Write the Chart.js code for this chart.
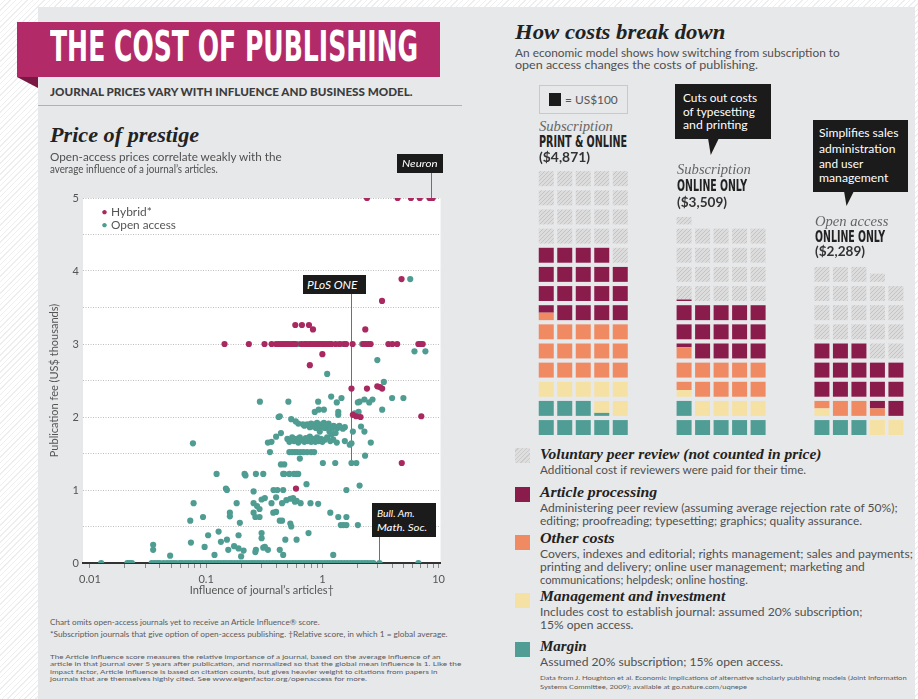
<!DOCTYPE html>
<html>
<head>
<meta charset="utf-8">
<script src="https://cdn.jsdelivr.net/npm/chart.js@4.4.1/dist/chart.umd.min.js"></script>
<style>
  html, body { margin: 0; padding: 0; }
  body {
    width: 918px; height: 699px; position: relative; overflow: hidden;
    background: repeating-linear-gradient(135deg, #ffffff 0 3px, #eceef0 3px 4px);
    font-family: Lato, "Open Sans", sans-serif;
  }
  #panel { position: absolute; left: 38px; top: 7px; width: 877px; height: 692px; background: #e7e8ea; }
  .t { position: absolute; white-space: nowrap; line-height: 1; transform-origin: 0 50%; z-index: 3; }
  .box { position: absolute; background: #1b1b1b; z-index: 2; }
  .sq { position: absolute; width: 15px; height: 15px; }
  canvas { position: absolute; z-index: 1; }
</style>
</head>
<body>
<div id="panel"></div>

<!-- header band -->
<div style="position:absolute;left:17px;top:22px;width:423px;height:55px;background:#b32a69"></div>
<div style="position:absolute;left:17px;top:77px;width:21px;height:11px;background:#781843;clip-path:polygon(0 0,100% 0,100% 100%)"></div>
<div style="position:absolute;left:38px;top:105px;width:424px;height:1px;background:#b2b2b2"></div>

<!-- annotation boxes + callouts -->
<div class="box" style="left:397px;top:154px;width:46px;height:19px"></div>
<div class="box" style="left:303px;top:275px;width:63px;height:19px"></div>
<div class="box" style="left:372px;top:503px;width:64px;height:34px"></div>
<div class="box" style="left:675px;top:84px;width:96px;height:55px"></div>
<div class="box" style="left:708px;top:138px;width:11px;height:17px;clip-path:polygon(0 0,100% 0,25% 100%)"></div>
<div class="box" style="left:813px;top:120px;width:95px;height:72px"></div>
<div class="box" style="left:844px;top:191px;width:10px;height:15px;clip-path:polygon(0 0,100% 0,25% 100%)"></div>

<!-- US$100 key -->
<div style="position:absolute;left:539px;top:85px;width:87px;height:27px;border:1px solid #c9c9cb"></div>
<div style="position:absolute;left:549px;top:93px;width:12px;height:13px;background:#1b1b1b"></div>

<!-- cost legend squares -->
<div class="sq" style="left:515px;top:448px;background:repeating-linear-gradient(135deg,#dedede 0 2px,#cbcbcb 2px 3px)"></div>
<div class="sq" style="left:515px;top:487px;background:#8a1c4c"></div>
<div class="sq" style="left:515px;top:535px;background:#ef8a62"></div>
<div class="sq" style="left:515px;top:593px;background:#f6e1a4"></div>
<div class="sq" style="left:515px;top:642px;background:#4f9d95"></div>

<canvas id="scatter" width="415" height="462" style="left:35px;top:148px"></canvas>
<canvas id="waffle" width="368" height="268" style="left:537px;top:167px"></canvas>

<script>
// ============================================================
//  Price of prestige  (scatter)  +  How costs break down (waffle)
// ============================================================

// ---- scatter data: [influence, fee in US$ thousands] ----
const hybridPoints = [
  [2.42,5],[4.44,5],[5.78,5],[6.89,5],[8.35,5],[8.6,5],[8.9,5],
  [4.8,3.89],[3.26,3.59],[2.34,3.2],[0.585,3.26],[0.667,3.26],[0.767,3.26],[0.83,3.2],[1.0,2.86],[0.78,2.71],
  [0.144,3],[0.233,3],[0.318,3],[0.366,3],[0.40,3],[0.42,3],[0.44,3],[0.46,3],[0.48,3],[0.50,3],[0.52,3],
  [0.55,3],[0.57,3],[0.59,3],[0.66,3],[0.70,3],[0.73,3],[0.77,3],[0.80,3],[0.84,3],[0.88,3],[0.92,3],
  [0.96,3],[1.0,3],[1.05,3],[1.1,3],[1.15,3],[1.2,3],[1.3,3],[1.4,3],[1.55,3],[1.6,3],[1.82,3],[2.25,3],
  [2.35,3],[2.5,3],[2.6,3],[3.7,3],[4.0,3],[4.4,3],[6.7,3],[7.0,3],[7.3,3],
  [1.78,2.39],[2.42,2.39],[2.97,2.42],[3.13,2.41],[3.27,2.39],[1.83,2.03],[1.95,2.01],[2.13,2.0],
  [7.1,2.01],[4.82,1.37],[0.593,1.02]
];

const openPoints = [
  // journals charging nothing
  [0.0125,0],[0.021,0],[0.022,0],[0.023,0],[0.034,0],[0.036,0],[0.038,0],[0.04,0],[0.043,0],[0.046,0],
  [0.049,0],[0.052,0],[0.055,0],[0.059,0],[0.062,0],[0.066,0],[0.07,0],[0.074,0],[0.079,0],[0.083,0],
  [0.088,0],[0.093,0],[0.099,0],[0.105,0],[0.111,0],[0.118,0],[0.125,0],[0.132,0],[0.14,0],[0.148,0],
  [0.157,0],[0.166,0],[0.176,0],[0.186,0],[0.197,0],[0.209,0],[0.221,0],[0.234,0],[0.248,0],[0.262,0],
  [0.278,0],[0.294,0],[0.311,0],[0.33,0],[0.349,0],[0.37,0],[0.391,0],[0.414,0],[0.439,0],[0.465,0],
  [0.492,0],[0.521,0],[0.552,0],[0.584,0],[0.619,0],[0.655,0],[0.694,0],[0.735,0],[0.778,0],[0.824,0],
  [0.873,0],[0.924,0],[0.979,0],[1.04,0],[1.1,0],[1.16,0],[1.23,0],[1.3,0],[1.38,0],[1.46,0],[1.55,0],
  [1.64,0],[1.74,0],[1.84,0],[1.95,0],[2.06,0],[2.19,0],[2.32,0],[2.45,0],[2.6,0],[2.75,0],[3.1,0],[6.7,0],
  // low fees
  [0.049,0.1],[0.2,0.09],[0.46,0.11],[1.24,0.11],[0.118,0.11],[0.265,0.15],
  [0.035,0.25],[0.035,0.18],[0.074,0.28],[0.097,0.22],[0.104,0.38],[0.128,0.43],[0.134,0.29],[0.151,0.32],
  [0.155,0.18],[0.174,0.23],[0.19,0.2],[0.21,0.17],[0.19,0.38],[0.268,0.18],[0.3,0.41],[0.3,0.34],
  [0.31,0.21],[0.32,0.22],[0.34,0.18],[0.43,0.18],[0.48,0.32],[0.6,0.32],[0.76,0.41],
  [0.073,0.58],[0.094,0.63],[0.16,0.69],[0.16,0.64],[0.195,0.55],[0.256,0.69],[0.265,0.63],[0.288,0.63],
  [0.378,0.69],[0.4,0.7],[0.43,0.58],[0.45,0.58],[0.53,0.54],[0.54,0.5],[1.17,0.69],[1.37,0.63],
  [1.61,0.63],[1.44,0.52],[1.52,0.52],[1.61,0.52],[2.02,0.52],
  [0.078,0.82],[0.183,0.82],[0.256,0.82],[0.274,0.78],[0.288,0.74],[0.3,0.87],[0.32,0.89],[0.365,0.82],
  [0.4,0.9],[0.45,0.82],[0.49,0.86],[0.53,0.88],[0.56,0.89],[0.58,0.84],[0.6,0.85],[0.65,0.82],
  [0.79,0.82],[0.92,0.81],
  // around US$1,000 - 1,500
  [0.148,1.02],[0.151,1.0],[0.256,0.98],[0.38,1.0],[0.41,1.0],[0.46,1.0],[0.73,1.08],[1.61,1.0],[2.09,1.06],
  [0.123,1.22],[0.214,1.22],[0.218,1.2],[0.268,1.22],[0.31,1.22],[0.46,1.22],[0.47,1.22],[0.52,1.22],
  [0.57,1.22],[0.6,1.22],[0.62,1.22],
  [0.44,1.35],[0.47,1.35],[0.64,1.43],[1.01,1.37],[1.29,1.37],[1.78,1.37],[1.96,1.37],[2.33,1.47],
  [0.354,1.52],[0.52,1.52],[0.55,1.52],[0.58,1.52],[0.61,1.52],[0.65,1.52],[0.69,1.52],[0.74,1.52],
  [0.8,1.52],[0.85,1.52],
  // US$1,600 - 2,000 cluster
  [0.077,1.64],[0.34,1.65],[0.365,1.66],[0.4,1.73],[0.44,1.78],[0.5,1.7],[0.52,1.66],[0.55,1.72],
  [0.57,1.67],[0.6,1.7],[0.62,1.65],[0.64,1.72],[0.67,1.68],[0.7,1.66],[0.72,1.71],[0.75,1.67],
  [0.78,1.73],[0.8,1.66],[0.83,1.7],[0.87,1.66],[0.9,1.72],[0.93,1.67],[0.97,1.7],[1.0,1.66],
  [1.05,1.69],[1.1,1.72],[1.17,1.67],[1.24,1.69],[1.33,1.65],[1.56,1.67],[1.72,1.62],[1.78,1.64],[2.61,1.65],
  [0.54,1.97],[0.59,1.94],[0.62,1.91],[0.68,1.9],[0.7,1.88],[0.74,1.9],[0.78,1.86],[0.8,1.91],
  [0.83,1.87],[0.86,1.9],[0.88,1.85],[0.9,1.92],[0.93,1.88],[0.96,1.86],[0.98,1.9],[1.0,1.87],
  [1.03,1.92],[1.05,1.85],[1.08,1.89],[1.1,1.86],[1.13,1.91],[1.16,1.87],[1.2,1.84],[1.25,1.88],
  [1.3,1.86],[1.35,1.85],[1.4,1.88],[1.5,1.84],[1.56,1.86],[0.95,1.8],[1.15,1.8],[1.2,1.76],
  [1.3,1.78],[1.83,1.8],[2.15,1.87],[2.3,1.8],
  // above US$2,000
  [0.42,2.0],[0.43,2.01],[0.86,2.07],[0.93,2.1],[1.03,2.1],[1.37,2.07],[1.37,2.03],[1.9,2.05],[2.05,2.07],
  [0.29,2.21],[0.51,2.21],[0.92,2.21],[1.19,2.28],[1.33,2.2],[1.46,2.26],[2.02,2.2],[2.09,2.21],
  [2.3,2.24],[2.53,2.2],[2.7,2.24],[3.27,2.1],[3.98,2.26],[4.98,2.26],
  [1.1,2.59],[3.38,2.48],[2.97,2.78],[6.2,2.9],[7.7,2.9],[5.7,3.89],[0.63,3.0],[1.47,3.0],[2.2,3.0],[2.4,3.0]
];

const callouts = [
  { name: 'Neuron', x: 8.6, y: 5 },
  { name: 'PLoS ONE', x: 1.78, y: 1.37 },
  { name: 'Bull. Am. Math. Soc.', x: 3.1, y: 0 }
];

const xMajor = [0.01, 0.1, 1, 10];
const xTickLabels = ['0.01', '0.1', '1', '10'];
const seriesLabels = ['Hybrid*', 'Open access'];

// ---- waffle data: cost per article in units of US$100 ----
const models = ['Subscription', 'Subscription', 'Open access'];
const formats = ['PRINT & ONLINE', 'ONLINE ONLY', 'ONLINE ONLY'];
const prices = ['($4,871)', '($3,509)', '($2,289)'];
const margin     = [8.2, 6.0, 3.0];
const management = [6.8, 4.45, 2.5];
const otherCosts = [15.5, 10.3, 3.0];
const processing = [18.5, 14.35, 14.5];
const peerReview = [21.0, 20.4, 20.55];

const HYBRID = '#a8285f';
const OPEN = '#4f9d92';
const CANVAS_TOP = 148;

// ------------------------------------------------------------
//  text helper
// ------------------------------------------------------------
const SERIF = '"Liberation Serif", "DejaVu Serif", serif';
const NARROW = '"Liberation Sans Narrow", "DejaVu Sans Condensed", "Liberation Sans", sans-serif';

function T(text, x, cy, size, o = {}) {
  const d = document.createElement('div');
  d.className = 't';
  d.textContent = text;
  d.style.left = x + 'px';
  d.style.top = (cy - size * 0.52) + 'px';
  d.style.fontSize = size + 'px';
  d.style.color = o.color || '#505050';
  if (o.font) d.style.fontFamily = o.font;
  if (o.weight) d.style.fontWeight = o.weight;
  if (o.italic) d.style.fontStyle = 'italic';
  document.body.appendChild(d);
  if (o.w) d.style.transform = `scaleX(${o.w / d.offsetWidth})`;
  return d;
}

// left panel
T('THE COST OF PUBLISHING', 50, 48, 42, { font: NARROW, weight: 700, color: '#fff', w: 368 });
T('JOURNAL PRICES VARY WITH INFLUENCE AND BUSINESS MODEL.', 50, 92, 11, { weight: 900, color: '#3c3c3c', w: 363 });
T('Price of prestige', 50, 136, 21, { font: SERIF, weight: 700, italic: true, color: '#222', w: 149 });
T('Open-access prices correlate weakly with the', 50, 157, 10.5, { w: 232 });
T('average influence of a journal\u2019s articles.', 50, 169, 10.5, { w: 168 });
T(seriesLabels[0], 111, 212, 10.5, { color: '#555', w: 41 });
T(seriesLabels[1], 111, 225, 10.5, { color: '#555', w: 65 });
T('\u2022', 101, 212, 12, { color: HYBRID });
T('\u2022', 101, 225, 12, { color: OPEN });
T(callouts[0].name, 402, 163, 10, { italic: true, color: '#fff', w: 36 });
T(callouts[1].name, 307, 285, 10.5, { italic: true, color: '#fff', w: 51 });
T('Bull. Am.', 377, 513, 10, { italic: true, color: '#fff', w: 38 });
T('Math. Soc.', 377, 527, 10, { italic: true, color: '#fff', w: 50 });

T('Chart omits open-access journals yet to receive an Article Influence\u00ae score.', 50, 623, 7, { color: '#5a5a5a', w: 270 });
T('*Subscription journals that give option of open-access publishing. \u2020Relative score, in which 1 = global average.', 50, 635, 7, { color: '#5a5a5a', w: 397 });
T('The Article Influence score measures the relative importance of a journal, based on the average influence of an', 50, 657, 6.5, { color: '#5a5a5a', w: 390 });
T('article in that journal over 5 years after publication, and normalized so that the global mean influence is 1. Like the', 50, 664.5, 6.5, { color: '#5a5a5a', w: 411 });
T('impact factor, Article Influence is based on citation counts, but gives heavier weight to citations from papers in', 50, 672, 6.5, { color: '#5a5a5a', w: 387 });
T('journals that are themselves highly cited. See www.eigenfactor.org/openaccess for more.', 50, 679.5, 6.5, { color: '#5a5a5a', w: 317 });

// right panel
T('How costs break down', 515, 33, 21, { font: SERIF, weight: 700, italic: true, color: '#222', w: 210 });
T('An economic model shows how switching from subscription to', 515, 53, 10.5, { w: 325 });
T('open access changes the costs of publishing.', 515, 65, 10.5, { w: 243 });
T('= US$100', 565, 100, 11, { color: '#555', w: 53 });
T('Cuts out costs', 683, 98, 11.5, { color: '#fff', w: 74 });
T('of typesetting', 683, 112, 11.5, { color: '#fff', w: 72 });
T('and printing', 683, 125, 11.5, { color: '#fff', w: 65 });
T('Simplifies sales', 819, 133, 11.5, { color: '#fff', w: 79 });
T('administration', 819, 149, 11.5, { color: '#fff', w: 76 });
T('and user', 819, 164, 11.5, { color: '#fff', w: 44 });
T('management', 819, 178, 11.5, { color: '#fff', w: 69 });

const headX = [539, 677, 815];
const headY = [127, 170, 222];
const headGap = [15.5, 16.5, 15];
models.forEach((m, i) => {
  const y = headY[i];
  T(m, headX[i], y, 15, { font: SERIF, italic: true, color: '#666', w: i === 2 ? 73 : 74 });
  T(formats[i], headX[i], y + headGap[i], 16, { font: NARROW, weight: 700, color: '#222', w: i === 0 ? 88 : 70 });
  T(prices[i], headX[i], y + headGap[i] * 2, 12.5, { weight: 700, color: '#333', w: i === 0 ? 51 : 50 });
});

const legendRows = [
  ['Voluntary peer review (not counted in price)', 455, 282, [['Additional cost if reviewers were paid for their time.', 266]]],
  ['Article processing', 493, 117, [['Administering peer review (assuming average rejection rate of 50%);', 358],
                                     ['editing; proofreading; typesetting; graphics; quality assurance.', 322]]],
  ['Other costs', 539, 75, [['Covers, indexes and editorial; rights management; sales and payments;', 373],
                            ['printing and delivery; online user management; marketing and', 325],
                            ['communications; helpdesk; online hosting.', 208]]],
  ['Management and investment', 597, 185, [['Includes cost to establish journal: assumed 20% subscription;', 322],
                                          ['15% open access.', 93]]],
  ['Margin', 647, 47, [['Assumed 20% subscription; 15% open access.', 243]]]
];
legendRows.forEach(([title, y, w, lines]) => {
  T(title, 540, y, 15, { font: SERIF, weight: 700, italic: true, color: '#222', w });
  lines.forEach(([s, lw], j) => T(s, 540, y + 15 + j * 13, 10.5, { color: '#505050', w: lw }));
});
T('Data from J. Houghton et al. Economic implications of alternative scholarly publishing models (Joint Information', 540, 678, 6.5, { color: '#5a5a5a', w: 367 });
T('Systems Committee, 2009); available at go.nature.com/uqnepe', 540, 687, 6.5, { color: '#5a5a5a', w: 207 });

// ------------------------------------------------------------
//  scatter
// ------------------------------------------------------------
Chart.defaults.font.family = 'Lato, "Open Sans", sans-serif';

const plotBg = {
  id: 'plotBg',
  beforeDraw(c) {
    const a = c.chartArea;
    c.ctx.save();
    c.ctx.fillStyle = '#ffffff';
    c.ctx.fillRect(a.left, a.top, a.right - a.left, a.bottom - a.top);
    c.ctx.restore();
  }
};

// page y of the edge of each annotation box the leader line runs to
const calloutEdges = [173, 294, 537];
const calloutLines = {
  id: 'calloutLines',
  beforeDatasetsDraw(c) {
    const { ctx, scales: { x, y } } = c;
    ctx.save();
    ctx.strokeStyle = '#707070';
    ctx.lineWidth = 1;
    callouts.forEach((cl, i) => {
      const px = Math.round(x.getPixelForValue(cl.x)) + 0.5;
      ctx.beginPath();
      ctx.moveTo(px, calloutEdges[i] - CANVAS_TOP);
      ctx.lineTo(px, y.getPixelForValue(cl.y));
      ctx.stroke();
    });
    ctx.restore();
  }
};

const xTicks = xMajor.flatMap(d => [1, 2, 3, 4, 5, 6, 7, 8, 9].map(m => m * d)).filter(v => v <= 10);

new Chart(document.getElementById('scatter'), {
  type: 'scatter',
  data: {
    datasets: [
      { label: seriesLabels[0], data: hybridPoints.map(([x, y]) => ({ x, y })), backgroundColor: HYBRID },
      { label: seriesLabels[1], data: openPoints.map(([x, y]) => ({ x, y })), backgroundColor: OPEN }
    ]
  },
  options: {
    responsive: false, animation: false, devicePixelRatio: 1,
    layout: { padding: { top: 50, right: 4, left: 0, bottom: 0 } },
    elements: { point: { radius: 3.1, borderWidth: 0 } },
    plugins: { legend: { display: false }, tooltip: { enabled: false } },
    scales: {
      x: {
        type: 'logarithmic', min: 0.00872, max: 10.4, bounds: 'data',
        afterBuildTicks: s => { s.ticks = xTicks.map(v => ({ value: v })); },
        afterFit: s => { s.height = 47; },
        ticks: {
          autoSkip: false, maxRotation: 0, padding: 5, color: '#555', font: { size: 11 },
          callback: v => { const i = xMajor.indexOf(v); return i < 0 ? '' : xTickLabels[i]; }
        },
        grid: { drawOnChartArea: false, tickLength: 5, color: '#8a8a8a' },
        border: { color: '#333', width: 2 },
        title: { display: true, text: 'Influence of journal\u2019s articles\u2020', color: '#555',
                 font: { size: 11 }, padding: { top: 0, bottom: 13 } }
      },
      y: {
        min: 0, max: 5,
        afterFit: s => { s.width = 48; },
        ticks: { stepSize: 0.5, autoSkip: false, padding: 4, color: '#555', font: { size: 11 },
                 callback: v => Number.isInteger(v) ? String(v) : '' },
        grid: { color: '#bdbdbd', drawTicks: false },
        border: { display: false, dash: [1, 1.5] },
        title: { display: true, text: 'Publication fee (US$ thousands)', color: '#555',
                 font: { size: 11 }, padding: { top: 13, bottom: 0 } }
      }
    }
  },
  plugins: [plotBg, calloutLines]
});

// ------------------------------------------------------------
//  waffle: each square = US$100, filled bottom-up, left to right
// ------------------------------------------------------------
function hatch() {
  const c = document.createElement('canvas');
  c.width = c.height = 4;
  const g = c.getContext('2d');
  g.fillStyle = '#dcdcdc';
  g.fillRect(0, 0, 4, 4);
  g.strokeStyle = '#c4c4c4';
  g.beginPath(); g.moveTo(0, 4); g.lineTo(4, 0); g.stroke();
  return g.createPattern(c, 'repeat');
}

const costParts = [
  { label: 'Margin', values: margin, color: '#4f9d95' },
  { label: 'Management and investment', values: management, color: '#f6e1a4' },
  { label: 'Other costs', values: otherCosts, color: '#ef8a62' },
  { label: 'Article processing', values: processing, color: '#8a1c4c' },
  { label: 'Voluntary peer review', values: peerReview, color: hatch() }
];

const PER_ROW = 5, GROUP_STEP = 7.45, FILL = 0.78;
const waffleSets = costParts.map(p => ({ label: p.label, backgroundColor: p.color, data: [] }));
models.forEach((_, g) => {
  let pos = 0;
  costParts.forEach((p, ci) => {
    const start = pos, end = pos + p.values[g];
    for (let k = Math.floor(start); k < end; k++) {
      const lo = Math.max(start, k) - k, hi = Math.min(end, k + 1) - k;
      if (hi - lo < 0.02) continue;
      const row = Math.floor(k / PER_ROW), col = k % PER_ROW;
      waffleSets[ci].data.push({ x: g * GROUP_STEP + col, y: [row + lo * FILL, row + hi * FILL] });
    }
    pos = end;
  });
});

new Chart(document.getElementById('waffle'), {
  type: 'bar',
  data: { datasets: waffleSets },
  options: {
    responsive: false, animation: false, devicePixelRatio: 1,
    layout: { padding: 0 },
    plugins: { legend: { display: false }, tooltip: { enabled: false } },
    datasets: { bar: { grouped: false, barPercentage: 1, categoryPercentage: 1, maxBarThickness: 15,
                       borderWidth: 0, inflateAmount: 0 } },
    scales: {
      x: { type: 'linear', min: -0.5, max: 19.39, offset: false, display: false,
           afterBuildTicks: s => { s.ticks = []; } },
      y: { type: 'linear', min: 0, max: 14, display: false }
    }
  }
});
</script>
</body>
</html>
